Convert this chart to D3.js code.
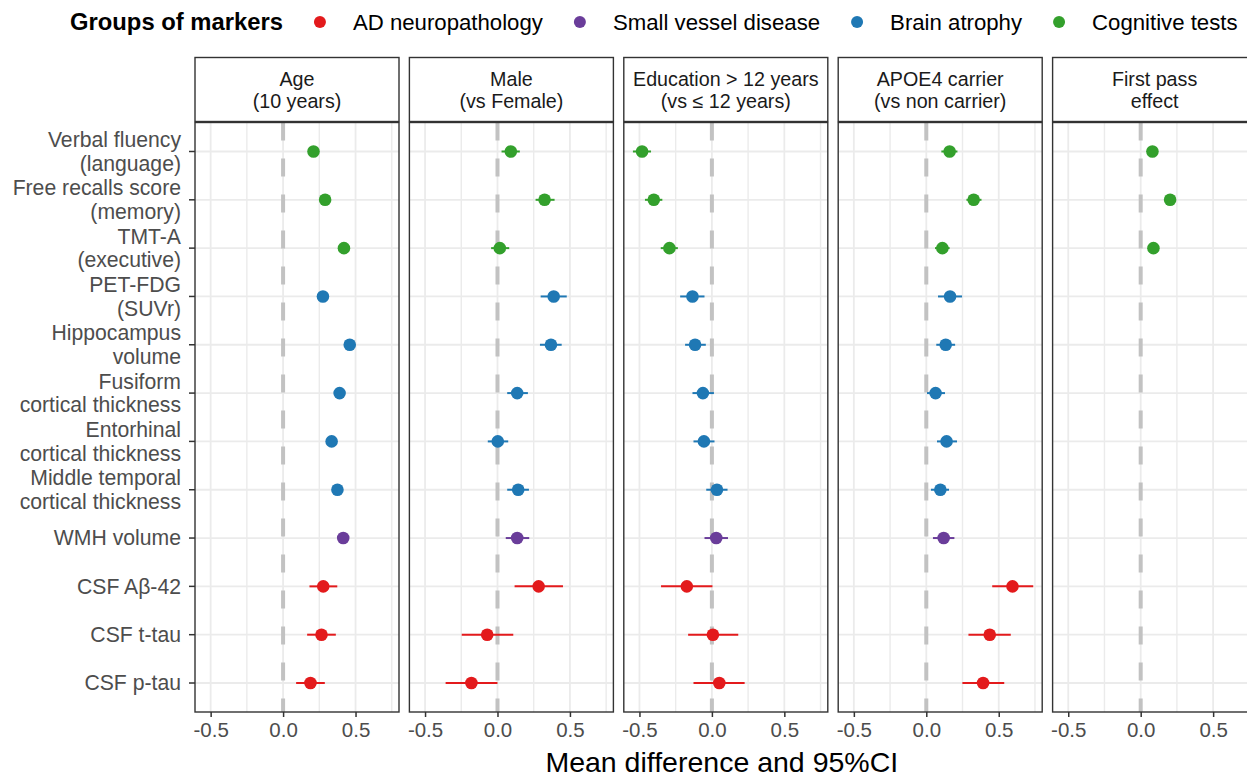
<!DOCTYPE html>
<html>
<head>
<meta charset="utf-8">
<script src="https://cdn.jsdelivr.net/npm/d3@7"></script>
<style>
  html, body { margin: 0; padding: 0; background: #fff; }
  svg { display: block; font-family: "Liberation Sans", Arial, sans-serif; }
</style>
</head>
<body>
<svg id="chart" width="1247" height="777"></svg>
<script>
// ---------- data ----------
const markers = [
  "Verbal fluency\n(language)",
  "Free recalls score\n(memory)",
  "TMT-A\n(executive)",
  "PET-FDG\n(SUVr)",
  "Hippocampus\nvolume",
  "Fusiform\ncortical thickness",
  "Entorhinal\ncortical thickness",
  "Middle temporal\ncortical thickness",
  "WMH volume",
  "CSF Aβ-42",
  "CSF t-tau",
  "CSF p-tau"
];
const markerGroup = [
  "Cognitive tests", "Cognitive tests", "Cognitive tests",
  "Brain atrophy", "Brain atrophy", "Brain atrophy", "Brain atrophy", "Brain atrophy",
  "Small vessel disease",
  "AD neuropathology", "AD neuropathology", "AD neuropathology"
];
const groups = ["AD neuropathology", "Small vessel disease", "Brain atrophy", "Cognitive tests"];
const groupColors = ["#E31A1C", "#6A3D9A", "#1F78B4", "#33A02C"];
const legendTitle = "Groups of markers";

const panels = [
  "Age\n(10 years)",
  "Male\n(vs Female)",
  "Education > 12 years\n(vs ≤ 12 years)",
  "APOE4 carrier\n(vs non carrier)",
  "First pass\neffect"
];

const ageEst = [0.21, 0.29, 0.42, 0.275, 0.46, 0.39, 0.335, 0.375, 0.415, 0.277, 0.265, 0.189];
const ageLo  = [0.18, 0.26, 0.39, 0.235, 0.43, 0.36, 0.305, 0.345, 0.385, 0.182, 0.166, 0.09];
const ageHi  = [0.24, 0.32, 0.45, 0.315, 0.49, 0.42, 0.365, 0.405, 0.445, 0.374, 0.364, 0.288];

const maleEst = [0.092, 0.325, 0.016, 0.388, 0.369, 0.136, 0.002, 0.143, 0.136, 0.284, -0.071, -0.18];
const maleLo  = [0.028, 0.263, -0.044, 0.298, 0.293, 0.067, -0.067, 0.067, 0.057, 0.118, -0.247, -0.358];
const maleHi  = [0.154, 0.394, 0.081, 0.478, 0.443, 0.21, 0.074, 0.217, 0.219, 0.452, 0.109, 0.0];

const eduEst = [-0.482, -0.401, -0.293, -0.134, -0.116, -0.062, -0.055, 0.035, 0.03, -0.173, 0.007, 0.051];
const eduLo  = [-0.545, -0.462, -0.353, -0.219, -0.185, -0.134, -0.127, -0.039, -0.051, -0.351, -0.164, -0.127];
const eduHi  = [-0.42, -0.342, -0.235, -0.051, -0.042, 0.014, 0.018, 0.108, 0.111, 0.004, 0.182, 0.226];

const apoeEst = [0.161, 0.327, 0.111, 0.164, 0.134, 0.064, 0.14, 0.097, 0.12, 0.595, 0.438, 0.392];
const apoeLo  = [0.104, 0.277, 0.06, 0.081, 0.069, 0.005, 0.074, 0.032, 0.046, 0.455, 0.291, 0.249];
const apoeHi  = [0.215, 0.381, 0.161, 0.247, 0.199, 0.129, 0.212, 0.157, 0.194, 0.738, 0.583, 0.538];

const firstEst = [0.081, 0.203, 0.088, null, null, null, null, null, null, null, null, null];
const firstLo  = [0.055, 0.175, 0.062, null, null, null, null, null, null, null, null, null];
const firstHi  = [0.107, 0.231, 0.114, null, null, null, null, null, null, null, null, null];

const xTicks = [-0.5, 0.0, 0.5];
const xMinor = [-0.75, -0.25, 0.25, 0.75];
const xTitle = "Mean difference and 95%CI";

// ---------- build table ----------
const panelData = [
  [ageEst, ageLo, ageHi],
  [maleEst, maleLo, maleHi],
  [eduEst, eduLo, eduHi],
  [apoeEst, apoeLo, apoeHi],
  [firstEst, firstLo, firstHi]
];

// ---------- layout ----------
const svg = d3.select("#chart");
const panelLeft0 = 195, panelStep = 214.4, panelW = 204;
const stripTop = 57.5, plotTop = 122.5, plotBottom = 712;

const x = d3.scaleLinear().domain([-0.608, 0.80]).range([0, panelW]);
const y = d3.scalePoint().domain(d3.range(markers.length)).range([plotTop, plotBottom]).padding(0.6);
const color = d3.scaleOrdinal().domain(groups).range(groupColors);

// ---------- legend ----------
const leg = svg.append("g").attr("class", "legend");
const legY = 22;
const lt = leg.append("text").attr("x", 70).attr("y", legY).attr("dy", "0.35em")
  .attr("font-size", 23.8).attr("font-weight", "bold").attr("fill", "#000").text(legendTitle);
let cursor = 70 + lt.node().getComputedTextLength();
groups.forEach((g, i) => {
  const cx = cursor + 37;
  leg.append("circle").attr("cx", cx).attr("cy", legY).attr("r", 6).attr("fill", color(g));
  const t = leg.append("text").attr("x", cx + 33).attr("y", legY).attr("dy", "0.35em")
    .attr("font-size", 22.2).attr("fill", "#000").text(g);
  cursor = cx + 33 + t.node().getComputedTextLength();
});

// ---------- y-axis labels ----------
const yAxisG = svg.append("g");
markers.forEach((m, i) => {
  const lines = m.split("\n");
  const yy = y(i);
  const lh = 23.5;
  const t = yAxisG.append("text").attr("text-anchor", "end").attr("font-size", 21.2).attr("fill", "#4D4D4D");
  lines.forEach((ln, k) => {
    const off = (k - (lines.length - 1) / 2) * lh;
    t.append("tspan").attr("x", 181).attr("y", yy + off).attr("dy", "0.35em").text(ln);
  });
  yAxisG.append("line").attr("x1", panelLeft0 - 6).attr("x2", panelLeft0)
    .attr("y1", yy).attr("y2", yy).attr("stroke", "#333").attr("stroke-width", 1.5);
});

// ---------- panels ----------
panels.forEach((p, pi) => {
  const left = panelLeft0 + pi * panelStep;
  const g = svg.append("g").attr("transform", `translate(${left},0)`);
  const [est, lo, hi] = panelData[pi];

  // grid
  g.selectAll(".vminor").data(xMinor.filter(v => x(v) > 0 && x(v) < panelW)).join("line")
    .attr("x1", d => x(d)).attr("x2", d => x(d)).attr("y1", plotTop).attr("y2", plotBottom)
    .attr("stroke", "#EBEBEB").attr("stroke-width", 1.4);
  g.selectAll(".vmajor").data(xTicks).join("line")
    .attr("x1", d => x(d)).attr("x2", d => x(d)).attr("y1", plotTop).attr("y2", plotBottom)
    .attr("stroke", "#EBEBEB").attr("stroke-width", 1.8);
  g.selectAll(".hmajor").data(d3.range(markers.length)).join("line")
    .attr("x1", 0).attr("x2", panelW).attr("y1", d => y(d)).attr("y2", d => y(d))
    .attr("stroke", "#EBEBEB").attr("stroke-width", 1.8);

  // zero line
  g.append("line").attr("x1", x(0)).attr("x2", x(0)).attr("y1", plotTop).attr("y2", plotBottom)
    .attr("stroke", "#C2C2C2").attr("stroke-width", 4).attr("stroke-dasharray", "18,18");

  // error bars & points
  const rows = d3.range(markers.length).filter(i => est[i] !== null);
  g.selectAll(".ci").data(rows).join("line")
    .attr("x1", i => x(lo[i])).attr("x2", i => x(hi[i]))
    .attr("y1", i => y(i)).attr("y2", i => y(i))
    .attr("stroke", i => color(markerGroup[i])).attr("stroke-width", 2);
  g.selectAll(".pt").data(rows).join("circle")
    .attr("cx", i => x(est[i])).attr("cy", i => y(i)).attr("r", 6.3)
    .attr("fill", i => color(markerGroup[i]));

  // panel border
  g.append("rect").attr("x", 0).attr("y", plotTop).attr("width", panelW).attr("height", plotBottom - plotTop)
    .attr("fill", "none").attr("stroke", "#333").attr("stroke-width", 1.4);

  // strip
  g.append("rect").attr("x", 0).attr("y", stripTop).attr("width", panelW).attr("height", plotTop - stripTop - 1)
    .attr("fill", "#fff").attr("stroke", "#333").attr("stroke-width", 1.4);
  const lines = p.split("\n");
  const st = g.append("text").attr("text-anchor", "middle").attr("font-size", 19.7).attr("fill", "#1A1A1A");
  lines.forEach((ln, k) => {
    st.append("tspan").attr("x", panelW / 2).attr("y", (stripTop + plotTop) / 2 + (k - 0.5) * 22).attr("dy", "0.35em").text(ln);
  });

  // x axis
  const ax = g.append("g").attr("transform", `translate(0,${plotBottom})`)
    .call(d3.axisBottom(x).tickValues(xTicks).tickFormat(d3.format(".1f")).tickSize(5).tickPadding(5));
  ax.select(".domain").remove();
  ax.selectAll(".tick line").attr("stroke", "#333").attr("stroke-width", 1.5);
  ax.selectAll(".tick text").attr("font-size", 20.5).attr("fill", "#4D4D4D")
    .attr("font-family", "Liberation Sans, Arial, sans-serif")
    .text(d => d3.format(".1f")(d).replace("−", "-"));
});

// x title
svg.append("text").attr("x", (panelLeft0 + panelLeft0 + 4 * panelStep + panelW) / 2 - 4)
  .attr("y", 762).attr("dy", "0.35em").attr("text-anchor", "middle")
  .attr("font-size", 28.5).attr("fill", "#000").text(xTitle);
</script>
</body>
</html>
